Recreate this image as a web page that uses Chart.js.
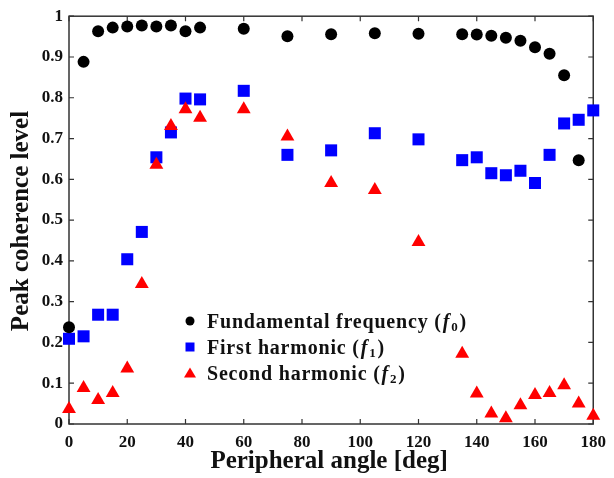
<!DOCTYPE html>
<html>
<head>
<meta charset="utf-8">
<script src="https://cdn.jsdelivr.net/npm/chart.js@4/dist/chart.umd.min.js"></script>
<style>
  html, body { margin: 0; padding: 0; background: #fff; }
  #chart { display: block; }
</style>
</head>
<body>
<canvas id="chart" width="614" height="478"></canvas>
<script>
// Peripheral angle [deg]
const angles = [0, 5, 10, 15, 20, 25, 30, 35, 40, 45, 60, 75, 90, 105, 120, 135, 140, 145, 150, 155, 160, 165, 170, 175, 180];

// Fundamental frequency (no point at 180)
const f0 = [0.237, 0.888, 0.963, 0.972, 0.975, 0.977, 0.975, 0.977, 0.963, 0.972, 0.969, 0.951, 0.956, 0.958, 0.957, 0.956, 0.955, 0.952, 0.947, 0.940, 0.924, 0.908, 0.855, 0.647, null];

// First harmonic
const f1 = [0.209, 0.215, 0.268, 0.268, 0.404, 0.471, 0.654, 0.715, 0.798, 0.796, 0.817, 0.660, 0.671, 0.713, 0.698, 0.647, 0.654, 0.615, 0.610, 0.621, 0.591, 0.660, 0.737, 0.746, 0.769];

// Second harmonic
const f2 = [0.037, 0.088, 0.059, 0.076, 0.136, 0.343, 0.636, 0.731, 0.772, 0.751, 0.772, 0.705, 0.591, 0.574, 0.446, 0.172, 0.075, 0.026, 0.014, 0.046, 0.071, 0.076, 0.095, 0.050, 0.020];

const xTicks = [0, 20, 40, 60, 80, 100, 120, 140, 160, 180];
const yTicks = [0, 0.1, 0.2, 0.3, 0.4, 0.5, 0.6, 0.7, 0.8, 0.9, 1];
const yTickLabels = ['0', '0.1', '0.2', '0.3', '0.4', '0.5', '0.6', '0.7', '0.8', '0.9', '1'];

const legendLabels = ['Fundamental frequency', 'First harmonic', 'Second harmonic'];
const legendSubs = ['0', '1', '2'];

const SERIF = '"Liberation Serif", "Times New Roman", serif';

function toPoints(values) {
    return angles.map((a, i) => ({ x: a, y: values[i] })).filter(p => p.y !== null);
}

// box + inward ticks, drawn under the markers
const frame = {
    id: 'frame',
    beforeDatasetsDraw(chart) {
        const { ctx, chartArea: a, scales } = chart;
        ctx.save();
        ctx.strokeStyle = '#333';
        ctx.lineWidth = 1.5;
        ctx.strokeRect(a.left, a.top, a.right - a.left, a.bottom - a.top);
        ctx.lineWidth = 1.2;
        ctx.beginPath();
        xTicks.forEach(v => {
            const px = scales.x.getPixelForValue(v);
            ctx.moveTo(px, a.bottom); ctx.lineTo(px, a.bottom - 5);
            ctx.moveTo(px, a.top); ctx.lineTo(px, a.top + 5);
        });
        yTicks.forEach(v => {
            const py = scales.y.getPixelForValue(v);
            ctx.moveTo(a.left, py); ctx.lineTo(a.left + 5, py);
            ctx.moveTo(a.right, py); ctx.lineTo(a.right - 5, py);
        });
        ctx.stroke();
        ctx.restore();
    }
};

// axis titles and the legend inside the plot
const annotations = {
    id: 'annotations',
    afterDraw(chart) {
        const { ctx, chartArea: a } = chart;
        ctx.save();
        ctx.fillStyle = '#111';
        ctx.textAlign = 'center';
        ctx.textBaseline = 'middle';
        ctx.font = 'bold 25px ' + SERIF;
        ctx.fillText('Peripheral angle [deg]', (a.left + a.right) / 2 - 2, 462);
        ctx.save();
        ctx.translate(22, 221);
        ctx.rotate(-Math.PI / 2);
        ctx.fillText('Peak coherence level', 0, 0);
        ctx.restore();

        // legend
        const rows = [321, 347, 373];
        const mx = 190;
        const tx = 207;
        ctx.textAlign = 'left';
        ctx.textBaseline = 'alphabetic';
        ctx.letterSpacing = '0.8px';
        chart.data.datasets.forEach((ds, i) => {
            const y = rows[i];
            ctx.fillStyle = ds.backgroundColor;
            ctx.beginPath();
            if (ds.pointStyle === 'circle') {
                ctx.arc(mx, y, 4.5, 0, Math.PI * 2);
            } else if (ds.pointStyle === 'rect') {
                ctx.rect(mx - 4.5, y - 4.5, 9, 9);
            } else {
                ctx.moveTo(mx, y - 5.5);
                ctx.lineTo(mx + 6, y + 4.5);
                ctx.lineTo(mx - 6, y + 4.5);
                ctx.closePath();
            }
            ctx.fill();

            ctx.fillStyle = '#111';
            const base = y + 7;
            let x = tx;
            ctx.font = 'bold 20px ' + SERIF;
            const head = legendLabels[i] + ' (';
            ctx.fillText(head, x, base);
            x += ctx.measureText(head).width + 1;
            ctx.font = 'italic bold 20px ' + SERIF;
            ctx.fillText('f', x, base);
            x += ctx.measureText('f').width + 1;
            ctx.font = 'bold 13px ' + SERIF;
            ctx.fillText(legendSubs[i], x, base + 3);
            x += ctx.measureText(legendSubs[i]).width + 1;
            ctx.font = 'bold 20px ' + SERIF;
            ctx.fillText(')', x, base);
        });
        ctx.restore();
    }
};

new Chart(document.getElementById('chart'), {
    type: 'scatter',
    data: {
        datasets: [
            {
                label: 'Fundamental frequency',
                data: toPoints(f0),
                pointStyle: 'circle',
                pointRadius: 6,
                backgroundColor: '#000000',
                borderColor: '#000000',
                borderWidth: 0,
                clip: false,
                order: 1
            },
            {
                label: 'First harmonic',
                data: toPoints(f1),
                pointStyle: 'rect',
                pointRadius: 8.5,
                backgroundColor: '#0000ff',
                borderColor: '#0000ff',
                borderWidth: 0,
                clip: false,
                order: 2
            },
            {
                label: 'Second harmonic',
                data: toPoints(f2),
                pointStyle: 'triangle',
                pointRadius: 8,
                backgroundColor: '#ff0000',
                borderColor: '#ff0000',
                borderWidth: 0,
                clip: false,
                order: 0
            }
        ]
    },
    options: {
        responsive: false,
        devicePixelRatio: 1,
        animation: false,
        layout: { padding: { top: 15, right: 16, left: 0, bottom: 0 } },
        plugins: {
            legend: { display: false },
            tooltip: { enabled: false }
        },
        scales: {
            x: {
                type: 'linear',
                min: 0,
                max: 180,
                afterFit: scale => { scale.height = 54; },
                afterBuildTicks: scale => { scale.ticks = xTicks.map(v => ({ value: v })); },
                grid: { display: false, drawTicks: false },
                border: { display: false },
                ticks: {
                    padding: 8,
                    color: '#111',
                    font: { family: SERIF, size: 17, weight: 'bold' },
                    maxRotation: 0,
                    callback: v => String(v)
                }
            },
            y: {
                type: 'linear',
                min: 0,
                max: 1,
                afterFit: scale => { scale.width = 69; },
                afterBuildTicks: scale => { scale.ticks = yTicks.map(v => ({ value: v })); },
                grid: { display: false, drawTicks: false },
                border: { display: false },
                ticks: {
                    padding: 6,
                    color: '#111',
                    font: { family: SERIF, size: 17, weight: 'bold' },
                    callback: (v, i) => yTickLabels[i]
                }
            }
        }
    },
    plugins: [frame, annotations]
});
</script>
</body>
</html>
